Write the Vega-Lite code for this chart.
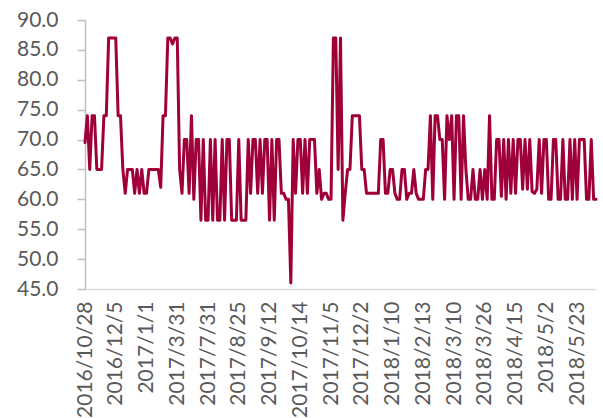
{
  "$schema": "https://vega.github.io/schema/vega-lite/v6.json",
  "width": 511,
  "height": 269,
  "autosize": "none",
  "padding": {"left": 85, "top": 20, "right": 7, "bottom": 129},
  "background": "white",
  "config": {"view": {"stroke": null}, "font": "Lato"},
  "data": {"values": [
    {"i":0,"d":"2016/10/28","v":69.5},{"i":1,"d":"2016/10/31","v":74},{"i":2,"d":"2016/11/2","v":65},{"i":3,"d":"2016/11/4","v":74},{"i":4,"d":"2016/11/8","v":74},{"i":5,"d":"2016/11/10","v":65},{"i":6,"d":"2016/11/14","v":65},{"i":7,"d":"2016/11/16","v":65},{"i":8,"d":"2016/11/18","v":74},{"i":9,"d":"2016/11/22","v":74},{"i":10,"d":"2016/11/24","v":87},{"i":11,"d":"2016/11/28","v":87},{"i":12,"d":"2016/12/1","v":87},
    {"i":13,"d":"2016/12/5","v":87},{"i":14,"d":"2016/12/7","v":74},{"i":15,"d":"2016/12/9","v":74},{"i":16,"d":"2016/12/12","v":65},{"i":17,"d":"2016/12/14","v":61},{"i":18,"d":"2016/12/16","v":65},{"i":19,"d":"2016/12/19","v":65},{"i":20,"d":"2016/12/21","v":65},{"i":21,"d":"2016/12/23","v":61},{"i":22,"d":"2016/12/26","v":65},{"i":23,"d":"2016/12/27","v":61},{"i":24,"d":"2016/12/28","v":65},{"i":25,"d":"2016/12/30","v":61},
    {"i":26,"d":"2017/1/1","v":61},{"i":27,"d":"2017/1/10","v":65},{"i":28,"d":"2017/1/17","v":65},{"i":29,"d":"2017/1/24","v":65},{"i":30,"d":"2017/2/3","v":65},{"i":31,"d":"2017/2/10","v":65},{"i":32,"d":"2017/2/17","v":62},{"i":33,"d":"2017/2/24","v":74},{"i":34,"d":"2017/3/3","v":74},{"i":35,"d":"2017/3/10","v":87},{"i":36,"d":"2017/3/17","v":87},{"i":37,"d":"2017/3/22","v":86},{"i":38,"d":"2017/3/27","v":87},
    {"i":39,"d":"2017/3/31","v":87},{"i":40,"d":"2017/4/10","v":65},{"i":41,"d":"2017/4/20","v":61},{"i":42,"d":"2017/4/28","v":70},{"i":43,"d":"2017/5/10","v":70},{"i":44,"d":"2017/5/19","v":61},{"i":45,"d":"2017/5/29","v":74},{"i":46,"d":"2017/6/8","v":60},{"i":47,"d":"2017/6/16","v":70},{"i":48,"d":"2017/6/26","v":70},{"i":49,"d":"2017/7/5","v":56.5},{"i":50,"d":"2017/7/14","v":70},{"i":51,"d":"2017/7/24","v":56.5},
    {"i":52,"d":"2017/7/31","v":56.5},{"i":53,"d":"2017/8/2","v":70},{"i":54,"d":"2017/8/4","v":56.5},{"i":55,"d":"2017/8/7","v":70},{"i":56,"d":"2017/8/9","v":56.5},{"i":57,"d":"2017/8/11","v":56.5},{"i":58,"d":"2017/8/14","v":70},{"i":59,"d":"2017/8/15","v":56.5},{"i":60,"d":"2017/8/16","v":70},{"i":61,"d":"2017/8/18","v":70},{"i":62,"d":"2017/8/21","v":56.5},{"i":63,"d":"2017/8/22","v":56.5},{"i":64,"d":"2017/8/23","v":56.5},
    {"i":65,"d":"2017/8/25","v":70},{"i":66,"d":"2017/8/26","v":56.5},{"i":67,"d":"2017/8/28","v":56.5},{"i":68,"d":"2017/8/29","v":56.5},{"i":69,"d":"2017/8/30","v":70},{"i":70,"d":"2017/8/31","v":61},{"i":71,"d":"2017/9/1","v":70},{"i":72,"d":"2017/9/3","v":70},{"i":73,"d":"2017/9/4","v":61},{"i":74,"d":"2017/9/5","v":70},{"i":75,"d":"2017/9/6","v":61},{"i":76,"d":"2017/9/8","v":70},{"i":77,"d":"2017/9/11","v":70},
    {"i":78,"d":"2017/9/12","v":56.5},{"i":79,"d":"2017/9/14","v":70},{"i":80,"d":"2017/9/16","v":56.5},{"i":81,"d":"2017/9/18","v":70},{"i":82,"d":"2017/9/20","v":70},{"i":83,"d":"2017/9/22","v":61},{"i":84,"d":"2017/9/25","v":61},{"i":85,"d":"2017/9/27","v":60},{"i":86,"d":"2017/9/29","v":60},{"i":87,"d":"2017/10/2","v":46},{"i":88,"d":"2017/10/5","v":70},{"i":89,"d":"2017/10/9","v":61},{"i":90,"d":"2017/10/11","v":70},
    {"i":91,"d":"2017/10/14","v":70},{"i":92,"d":"2017/10/16","v":61},{"i":93,"d":"2017/10/17","v":70},{"i":94,"d":"2017/10/18","v":61},{"i":95,"d":"2017/10/20","v":70},{"i":96,"d":"2017/10/23","v":70},{"i":97,"d":"2017/10/24","v":70},{"i":98,"d":"2017/10/25","v":61},{"i":99,"d":"2017/10/27","v":65},{"i":100,"d":"2017/10/30","v":60},{"i":101,"d":"2017/10/31","v":61},{"i":102,"d":"2017/11/1","v":61},{"i":103,"d":"2017/11/3","v":60},
    {"i":104,"d":"2017/11/5","v":60},{"i":105,"d":"2017/11/7","v":87},{"i":106,"d":"2017/11/9","v":87},{"i":107,"d":"2017/11/10","v":65},{"i":108,"d":"2017/11/13","v":87},{"i":109,"d":"2017/11/15","v":56.5},{"i":110,"d":"2017/11/17","v":61},{"i":111,"d":"2017/11/20","v":65},{"i":112,"d":"2017/11/22","v":65},{"i":113,"d":"2017/11/24","v":74},{"i":114,"d":"2017/11/27","v":74},{"i":115,"d":"2017/11/29","v":74},{"i":116,"d":"2017/11/30","v":74},
    {"i":117,"d":"2017/12/2","v":65},{"i":118,"d":"2017/12/5","v":65},{"i":119,"d":"2017/12/8","v":61},{"i":120,"d":"2017/12/11","v":61},{"i":121,"d":"2017/12/14","v":61},{"i":122,"d":"2017/12/18","v":61},{"i":123,"d":"2017/12/20","v":61},{"i":124,"d":"2017/12/22","v":61},{"i":125,"d":"2017/12/26","v":70},{"i":126,"d":"2017/12/28","v":70},{"i":127,"d":"2018/1/2","v":61},{"i":128,"d":"2018/1/4","v":61},{"i":129,"d":"2018/1/8","v":65},
    {"i":130,"d":"2018/1/10","v":65},{"i":131,"d":"2018/1/12","v":61},{"i":132,"d":"2018/1/15","v":60},{"i":133,"d":"2018/1/17","v":60},{"i":134,"d":"2018/1/19","v":65},{"i":135,"d":"2018/1/22","v":65},{"i":136,"d":"2018/1/24","v":60},{"i":137,"d":"2018/1/26","v":61},{"i":138,"d":"2018/1/29","v":61},{"i":139,"d":"2018/1/31","v":65},{"i":140,"d":"2018/2/5","v":61},{"i":141,"d":"2018/2/7","v":60},{"i":142,"d":"2018/2/9","v":60},
    {"i":143,"d":"2018/2/13","v":60},{"i":144,"d":"2018/2/14","v":65},{"i":145,"d":"2018/2/22","v":65},{"i":146,"d":"2018/2/23","v":74},{"i":147,"d":"2018/2/26","v":60},{"i":148,"d":"2018/2/27","v":74},{"i":149,"d":"2018/2/28","v":74},{"i":150,"d":"2018/3/1","v":70},{"i":151,"d":"2018/3/2","v":70},{"i":152,"d":"2018/3/5","v":60},{"i":153,"d":"2018/3/6","v":74},{"i":154,"d":"2018/3/7","v":70},{"i":155,"d":"2018/3/8","v":74},
    {"i":156,"d":"2018/3/10","v":60},{"i":157,"d":"2018/3/11","v":74},{"i":158,"d":"2018/3/12","v":74},{"i":159,"d":"2018/3/13","v":60},{"i":160,"d":"2018/3/14","v":74},{"i":161,"d":"2018/3/15","v":65},{"i":162,"d":"2018/3/16","v":60},{"i":163,"d":"2018/3/18","v":60},{"i":164,"d":"2018/3/19","v":65},{"i":165,"d":"2018/3/20","v":60},{"i":166,"d":"2018/3/21","v":60},{"i":167,"d":"2018/3/22","v":65},{"i":168,"d":"2018/3/23","v":60},
    {"i":169,"d":"2018/3/26","v":65},{"i":170,"d":"2018/3/27","v":60},{"i":171,"d":"2018/3/28","v":74},{"i":172,"d":"2018/3/29","v":60},{"i":173,"d":"2018/3/30","v":60},{"i":174,"d":"2018/4/2","v":70},{"i":175,"d":"2018/4/3","v":70},{"i":176,"d":"2018/4/4","v":60.5},{"i":177,"d":"2018/4/8","v":70},{"i":178,"d":"2018/4/9","v":60},{"i":179,"d":"2018/4/10","v":70},{"i":180,"d":"2018/4/11","v":61},{"i":181,"d":"2018/4/12","v":70},
    {"i":182,"d":"2018/4/15","v":61},{"i":183,"d":"2018/4/16","v":70},{"i":184,"d":"2018/4/17","v":70},{"i":185,"d":"2018/4/18","v":61.7},{"i":186,"d":"2018/4/19","v":70},{"i":187,"d":"2018/4/20","v":61.7},{"i":188,"d":"2018/4/23","v":70},{"i":189,"d":"2018/4/24","v":61.3},{"i":190,"d":"2018/4/25","v":61},{"i":191,"d":"2018/4/26","v":61.7},{"i":192,"d":"2018/4/27","v":70},{"i":193,"d":"2018/4/28","v":61},{"i":194,"d":"2018/4/29","v":70},
    {"i":195,"d":"2018/5/2","v":70},{"i":196,"d":"2018/5/3","v":60},{"i":197,"d":"2018/5/4","v":60},{"i":198,"d":"2018/5/7","v":70},{"i":199,"d":"2018/5/8","v":70},{"i":200,"d":"2018/5/9","v":60},{"i":201,"d":"2018/5/10","v":60},{"i":202,"d":"2018/5/11","v":70},{"i":203,"d":"2018/5/14","v":60},{"i":204,"d":"2018/5/15","v":60},{"i":205,"d":"2018/5/16","v":70},{"i":206,"d":"2018/5/17","v":60},{"i":207,"d":"2018/5/18","v":70},
    {"i":208,"d":"2018/5/23","v":60},{"i":209,"d":"2018/5/24","v":70},{"i":210,"d":"2018/5/25","v":70},{"i":211,"d":"2018/5/28","v":70},{"i":212,"d":"2018/5/29","v":60},{"i":213,"d":"2018/5/30","v":60},{"i":214,"d":"2018/5/31","v":70},{"i":215,"d":"2018/6/1","v":60},{"i":216,"d":"2018/6/4","v":60}
  ]},
  "mark": {"type": "line", "color": "#A0003A", "strokeWidth": 3, "strokeJoin": "round", "strokeCap": "round"},
  "encoding": {
    "x": {
      "field": "i", "type": "quantitative",
      "scale": {"domain": [0, 216], "nice": false, "zero": false},
      "axis": {
        "title": null,
        "values": [0, 13, 26, 39, 52, 65, 78, 91, 104, 117, 130, 143, 156, 169, 182, 195, 208],
        "labelExpr": "['2016/10/28','2016/12/5','2017/1/1','2017/3/31','2017/7/31','2017/8/25','2017/9/12','2017/10/14','2017/11/5','2017/12/2','2018/1/10','2018/2/13','2018/3/10','2018/3/26','2018/4/15','2018/5/2','2018/5/23'][round(datum.value / 13)]",
        "labelAngle": 270, "labelOverlap": false, "labelBound": false, "labelFlush": false,
        "labelAlign": "right", "labelBaseline": "middle",
        "labelFont": "Lato", "labelFontSize": 21, "labelColor": "#595959", "labelPadding": 12,
        "ticks": false, "domainColor": "#D9D9D9", "domainWidth": 1.5, "grid": false
      }
    },
    "y": {
      "field": "v", "type": "quantitative",
      "scale": {"domain": [45, 90], "nice": false, "zero": false},
      "axis": {
        "title": null,
        "values": [45, 50, 55, 60, 65, 70, 75, 80, 85, 90],
        "format": ".1f", "grid": false,
        "labelFont": "Lato", "labelFontSize": 21, "labelColor": "#595959", "labelPadding": 19,
        "tickSize": 8, "tickColor": "#BFBFBF", "domainColor": "#BFBFBF", "tickWidth": 1.5, "domainWidth": 1.5
      }
    }
  }
}
